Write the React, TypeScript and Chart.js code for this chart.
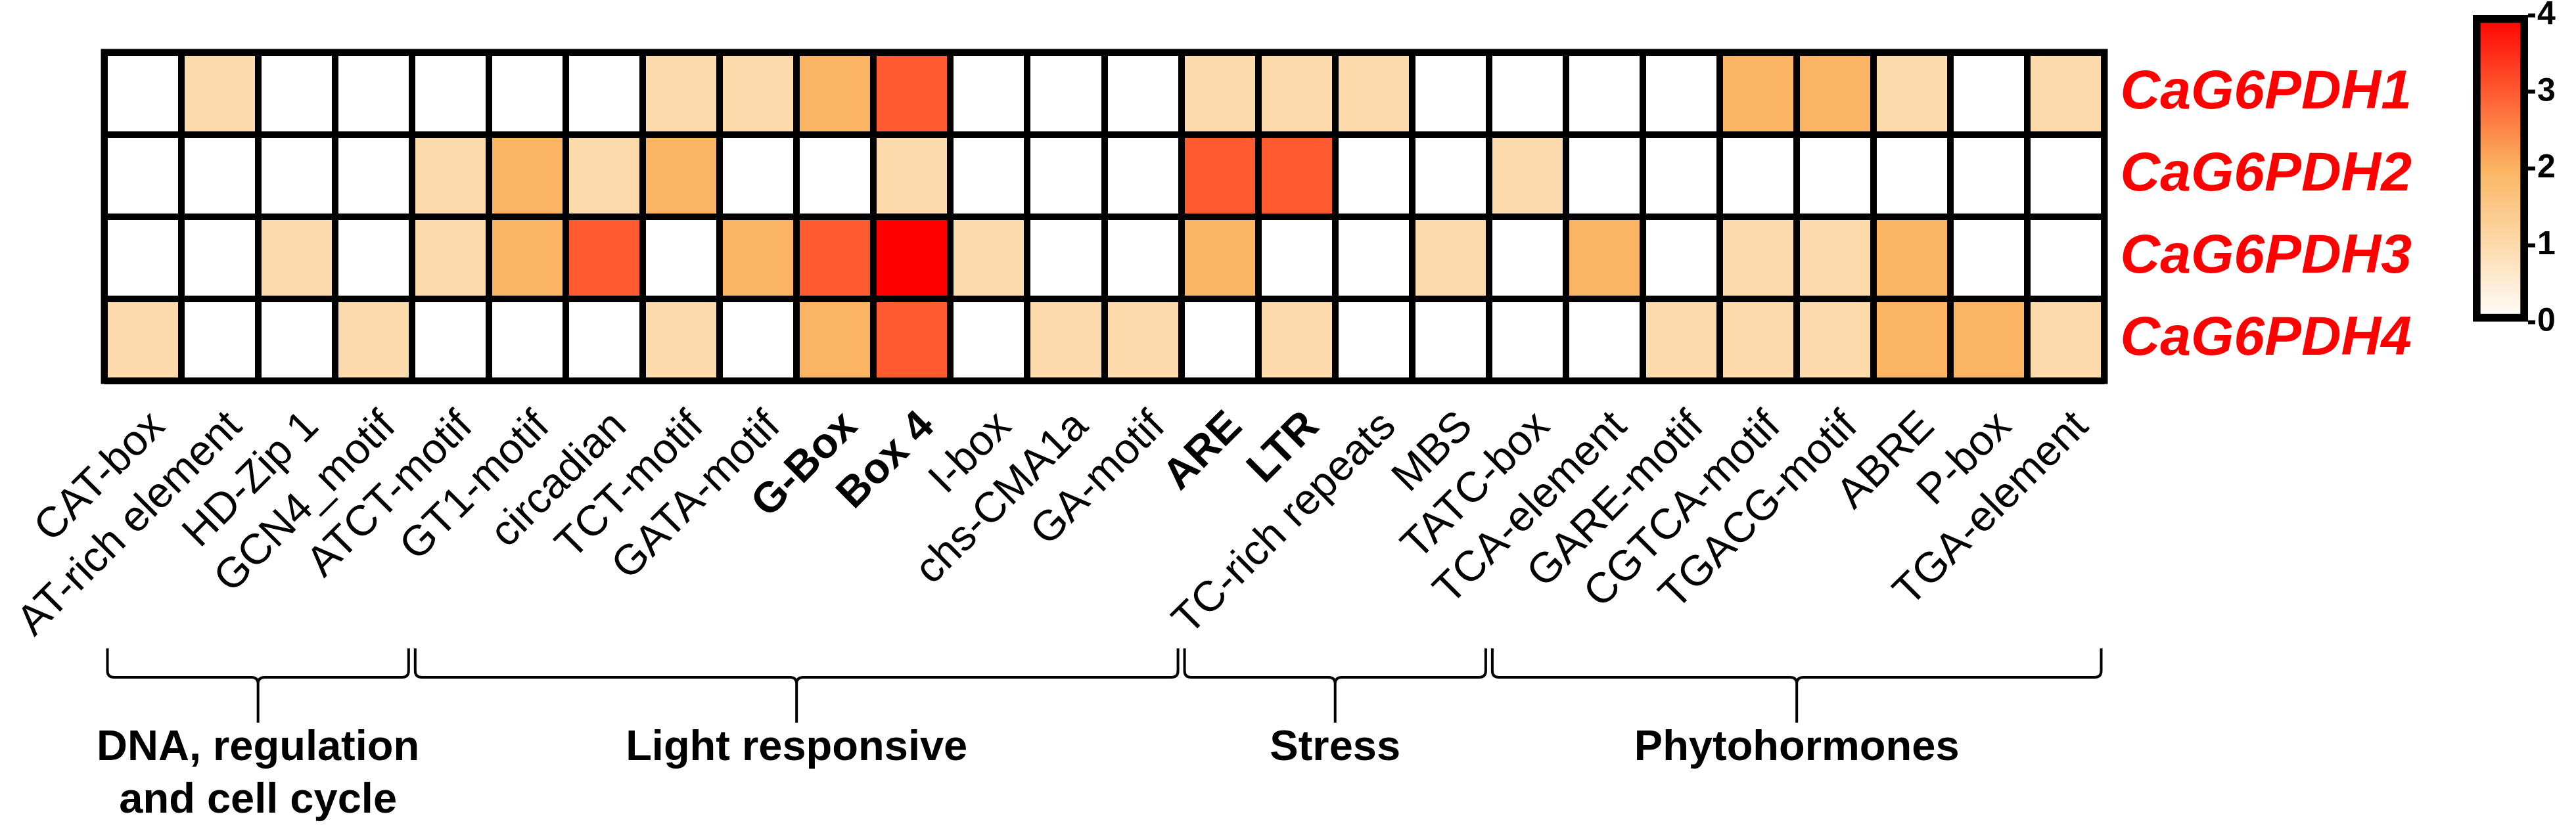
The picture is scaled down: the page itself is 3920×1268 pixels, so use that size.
import React, { useEffect, useRef } from 'react';
import { Chart, registerables } from 'chart.js';

Chart.register(...registerables);

const FONT = '"Liberation Sans", Arial, Helvetica, sans-serif';

const MOTIFS = [
  'CAT-box', 'AT-rich element', 'HD-Zip 1', 'GCN4_motif', 'ATCT-motif', 'GT1-motif',
  'circadian', 'TCT-motif', 'GATA-motif', 'G-Box', 'Box 4', 'I-box', 'chs-CMA1a',
  'GA-motif', 'ARE', 'LTR', 'TC-rich repeats', 'MBS', 'TATC-box', 'TCA-element',
  'GARE-motif', 'CGTCA-motif', 'TGACG-motif', 'ABRE', 'P-box', 'TGA-element',
];
const BOLD_MOTIFS = ['G-Box', 'Box 4', 'ARE', 'LTR'];

const GENES = ['CaG6PDH1', 'CaG6PDH2', 'CaG6PDH3', 'CaG6PDH4'];

const CaG6PDH1 = [0, 1, 0, 0, 0, 0, 0, 1, 1, 2, 3, 0, 0, 0, 1, 1, 1, 0, 0, 0, 0, 2, 2, 1, 0, 1];
const CaG6PDH2 = [0, 0, 0, 0, 1, 2, 1, 2, 0, 0, 1, 0, 0, 0, 3, 3, 0, 0, 1, 0, 0, 0, 0, 0, 0, 0];
const CaG6PDH3 = [0, 0, 1, 0, 1, 2, 3, 0, 2, 3, 4, 1, 0, 0, 2, 0, 0, 1, 0, 2, 0, 1, 1, 2, 0, 0];
const CaG6PDH4 = [1, 0, 0, 1, 0, 0, 0, 1, 0, 2, 3, 0, 1, 1, 0, 1, 0, 0, 0, 0, 1, 1, 1, 2, 2, 1];
const COUNTS = [CaG6PDH1, CaG6PDH2, CaG6PDH3, CaG6PDH4];

const SCALE_TICKS = [0, 1, 2, 3, 4];
const SCALE_COLORS = ['#FFFFFF', '#FDDAAC', '#FBB562', '#FF5A30', '#FF0000'];

const GROUP_LABELS = [['DNA, regulation', 'and cell cycle'], ['Light responsive'], ['Stress'], ['Phytohormones']];
const GROUP_FIRST = ['CAT-box', 'ATCT-motif', 'ARE', 'TATC-box'];
const GROUP_LAST = ['GCN4_motif', 'GA-motif', 'MBS', 'TGA-element'];

function hexToRgb(h: string) {
  const n = parseInt(h.slice(1), 16);
  return [(n >> 16) & 255, (n >> 8) & 255, n & 255];
}

function colorFor(v: number) {
  const min = SCALE_TICKS[0];
  const max = SCALE_TICKS[SCALE_TICKS.length - 1];
  const c = Math.max(min, Math.min(max, v));
  let k = 0;
  while (k < SCALE_TICKS.length - 2 && c > SCALE_TICKS[k + 1]) k++;
  const t = (c - SCALE_TICKS[k]) / (SCALE_TICKS[k + 1] - SCALE_TICKS[k]);
  const a = hexToRgb(SCALE_COLORS[k]);
  const b = hexToRgb(SCALE_COLORS[k + 1]);
  const m = a.map((x, i) => Math.round(x + (b[i] - x) * t));
  return `rgb(${m[0]},${m[1]},${m[2]})`;
}

const groupPlugin = {
  id: 'groupBrackets',
  afterDraw(chart: any) {
    const { ctx, chartArea } = chart;
    const x = chart.scales.x;
    ctx.save();
    ctx.strokeStyle = '#000';
    ctx.lineWidth = 10;
    ctx.lineJoin = 'miter';
    ctx.strokeRect(chartArea.left, chartArea.top, chartArea.right - chartArea.left, chartArea.bottom - chartArea.top);

    const half = (x.getPixelForTick(1) - x.getPixelForTick(0)) / 2;
    const yTop = 987;
    const yBar = 1031;
    const yStem = 1100;
    const r = 10;
    GROUP_FIRST.forEach((first, g) => {
      const x0 = x.getPixelForTick(MOTIFS.indexOf(first)) - half + 5;
      const x1 = x.getPixelForTick(MOTIFS.indexOf(GROUP_LAST[g])) + half - 5;
      const mid = (x0 + x1) / 2;
      ctx.lineWidth = 4;
      ctx.lineCap = 'butt';
      ctx.beginPath();
      ctx.moveTo(x0, yTop);
      ctx.lineTo(x0, yBar - r);
      ctx.quadraticCurveTo(x0, yBar, x0 + r, yBar);
      ctx.lineTo(mid - r, yBar);
      ctx.quadraticCurveTo(mid, yBar, mid, yBar + r);
      ctx.lineTo(mid, yStem);
      ctx.moveTo(mid, yBar + r);
      ctx.quadraticCurveTo(mid, yBar, mid + r, yBar);
      ctx.lineTo(x1 - r, yBar);
      ctx.quadraticCurveTo(x1, yBar, x1, yBar - r);
      ctx.lineTo(x1, yTop);
      ctx.stroke();

      ctx.fillStyle = '#000';
      ctx.font = `bold 65px ${FONT}`;
      ctx.textAlign = 'center';
      ctx.textBaseline = 'alphabetic';
      GROUP_LABELS[g].forEach((line, k) => {
        ctx.fillText(line, mid, 1157 + k * 80);
      });
    });
    ctx.restore();
  },
};

export default function App() {
  const mainRef = useRef<HTMLCanvasElement>(null);
  const cbRef = useRef<HTMLCanvasElement>(null);

  useEffect(() => {
    if (!mainRef.current || !cbRef.current) return;
    const n = GENES.length;
    const main = new Chart(mainRef.current, {
      type: 'bar',
      data: {
        labels: MOTIFS,
        datasets: GENES.map((g, i) => ({
          label: g,
          data: COUNTS[i].map(() => [n - 1 - i, n - i]),
          backgroundColor: COUNTS[i].map(colorFor),
          borderWidth: 0,
          barPercentage: 1,
          categoryPercentage: 1,
          grouped: false,
        })) as any,
      },
      options: {
        responsive: false,
        animation: false,
        layout: { padding: { left: 158.5, top: 79.5, right: 0, bottom: 0 } },
        plugins: { legend: { display: false }, tooltip: { enabled: false } },
        scales: {
          x: {
            type: 'category',
            offset: true,
            grid: { offset: true, color: '#000', lineWidth: 10, z: 1, drawTicks: false },
            border: { display: false },
            ticks: {
              autoSkip: false,
              minRotation: 45,
              maxRotation: 45,
              padding: 32,
              labelOffset: 24,
              color: '#000',
              font: (c: any) => ({
                family: FONT,
                size: 65,
                weight: BOLD_MOTIFS.includes(MOTIFS[c.index]) ? 'bold' : 'normal',
              }),
            },
            afterFit: (s: any) => {
              s.height = 688.5;
              s.paddingLeft = 0;
              s.paddingRight = 0;
            },
          },
          y: {
            type: 'linear',
            position: 'left',
            min: 0,
            max: n,
            grid: { color: '#000', lineWidth: 10, z: 1, drawTicks: false },
            border: { display: false },
            ticks: { display: false, stepSize: 1 },
            afterFit: (s: any) => { s.width = 0; },
          },
          yGene: {
            type: 'category',
            labels: GENES,
            position: 'right',
            offset: true,
            grid: { display: false, drawTicks: false },
            border: { display: false },
            ticks: {
              color: '#FF0000',
              padding: 24,
              font: { family: FONT, size: 84, weight: 'bold', style: 'italic' },
            },
            afterFit: (s: any) => { s.width = 717.5; },
          },
        } as any,
      },
      plugins: [groupPlugin],
    });

    const smin = SCALE_TICKS[0];
    const smax = SCALE_TICKS[SCALE_TICKS.length - 1];
    const cb = new Chart(cbRef.current, {
      type: 'bar',
      data: {
        labels: ['scale'],
        datasets: [{
          data: [[smin, smax]] as any,
          backgroundColor: (c: any) => {
            const ch = c.chart;
            const ys = ch.scales.y;
            if (!ch.chartArea || !ys) return SCALE_COLORS[2];
            const g = ch.ctx.createLinearGradient(0, ys.getPixelForValue(smin), 0, ys.getPixelForValue(smax));
            SCALE_TICKS.forEach((t, k) => g.addColorStop((t - smin) / (smax - smin), SCALE_COLORS[k]));
            return g;
          },
          borderColor: '#000',
          borderWidth: 12,
          borderSkipped: false,
          barPercentage: 1,
          categoryPercentage: 1,
        }],
      },
      options: {
        responsive: false,
        animation: false,
        layout: { padding: { left: 63, top: 23, bottom: 30, right: 0 } },
        plugins: { legend: { display: false }, tooltip: { enabled: false } },
        scales: {
          x: { display: false },
          y: {
            position: 'right',
            min: smin,
            max: smax,
            grid: { drawOnChartArea: false, drawTicks: true, tickLength: 11, tickWidth: 6, tickColor: '#000' },
            border: { display: false },
            ticks: {
              stepSize: 1,
              padding: 3,
              color: '#000',
              font: { family: FONT, size: 50, weight: 'bold', lineHeight: 0.8 },
            },
            afterFit: (s: any) => { s.width = 73; },
          },
        } as any,
      },
    });

    return () => {
      main.destroy();
      cb.destroy();
    };
  }, []);

  return (
    <div style={{ position: 'fixed', left: 0, top: 0, width: 3920, height: 1268, background: '#fff' }}>
      <canvas ref={mainRef} width={3920} height={1268} style={{ position: 'absolute', left: 0, top: 0 }} />
      <canvas ref={cbRef} width={220} height={520} style={{ position: 'absolute', left: 3700, top: 0 }} />
    </div>
  );
}
